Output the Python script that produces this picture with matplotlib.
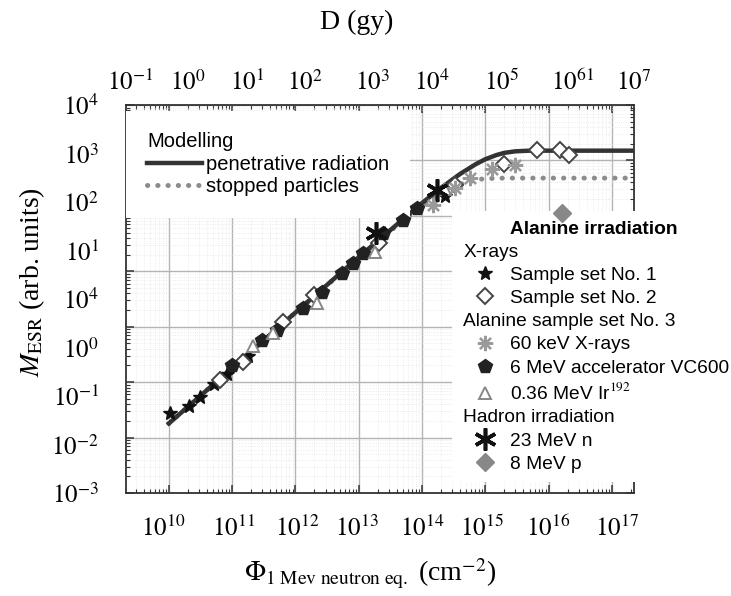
import matplotlib.pyplot as plt
from matplotlib.lines import Line2D

plt.rcParams['font.family'] = 'Liberation Sans'
plt.rcParams['mathtext.fontset'] = 'stix'

# modelling curves
pen_phi = [1e10, 1e11, 1e12, 1e13, 1e14, 2e14, 4e14, 7e14, 1e15, 1.5e15, 2e15, 3e15, 5e15, 1e16, 2.2e17]
pen_m = [0.018, 0.18, 1.8, 18, 170, 320, 570, 850, 1050, 1250, 1370, 1460, 1500, 1500, 1500]
stop_phi = [1e10, 1e11, 1e12, 1e13, 3e13, 1e14, 2e14, 4e14, 7e14, 1e15, 2e15, 2.2e17]
stop_m = [0.018, 0.18, 1.8, 17.5, 51, 150, 250, 370, 445, 470, 480, 480]

# measurements
set1_phi = [1.05e10, 2.1e10, 3.1e10, 5.1e10, 8.3e10, 1.8e11, 2.3e14]
set1_m = [0.028, 0.037, 0.053, 0.093, 0.14, 0.30, 230]
set2_phi = [6.5e10, 1.5e11, 6.3e11, 2.0e12, 2.1e13, 3.3e14, 2.0e15, 6.5e15, 1.5e16, 2.1e16]
set2_m = [0.11, 0.23, 1.2, 3.7, 32, 360, 870, 1550, 1550, 1260]
kev60_phi = [1.5e14, 3.3e14, 5.8e14, 1.3e15, 3.0e15]
kev60_m = [160, 320, 490, 710, 830]
vc600_phi = [1.0e11, 3.0e11, 5.2e11, 1.3e12, 2.6e12, 5.4e12, 8.1e12, 1.15e13, 2.4e13, 5.0e13, 8.3e13]
vc600_m = [0.20, 0.58, 0.87, 2.2, 4.3, 9.3, 14, 21, 49, 85, 138]
ir_phi = [2.1e11, 4.4e11, 2.2e12, 1.8e13, 2.3e14]
ir_m = [0.44, 0.78, 2.7, 22, 300]
n23_phi = [1.9e13, 1.7e14]
n23_m = [49, 295]
p8_phi = [1.65e16]
p8_m = [112]

# tick labels as printed in the figure
bottom_labels = ['$10^{10}$', '$10^{11}$', '$10^{12}$', '$10^{13}$', '$10^{14}$',
                 '$10^{15}$', '$10^{16}$', '$10^{17}$']
top_labels = ['$10^{-1}$', '$10^{0}$', '$10^{1}$', '$10^{2}$', '$10^{3}$', '$10^{4}$',
              '$10^{5}$', '$10^{61}$', '$10^{7}$']
left_labels = ['$10^{-3}$', '$10^{-2}$', '$10^{-1}$', '$10^{0}$', '$10^{4}$',
               '$10^{1}$', '$10^{2}$', '$10^{3}$', '$10^{4}$']
bottom_pos = [0.073, 0.211, 0.337, 0.455, 0.583, 0.701, 0.831, 0.967]
top_pos = [0.008, 0.122, 0.238, 0.352, 0.486, 0.602, 0.740, 0.880, 1.0]

fig = plt.figure(figsize=(7.31, 5.96), dpi=100)
pos = [126 / 731, 103 / 596, 508 / 731, 388 / 596]
ax = fig.add_axes(pos)
ax.set_xscale('log')
ax.set_yscale('log')
ax.set_xlim(2.1e9, 2.24e17)
ax.set_ylim(1e-3, 1e4)

ax.grid(True, which='major', color='#b4b4b4', lw=1.0)
ax.grid(True, which='minor', color='#e6e6e6', lw=0.6, ls=':')
ax.tick_params(which='both', direction='in', top=True, right=True,
               labelbottom=False, labelleft=False, color='#333333')
ax.tick_params(which='major', length=6, width=1.1)
ax.tick_params(which='minor', length=3, width=0.8)
for s in ax.spines.values():
    s.set_color('#333333')
    s.set_linewidth(1.3)

pen, = ax.plot(pen_phi, pen_m, color='#333333', lw=3.2, zorder=3,
               label='penetrative radiation')
stop, = ax.plot(stop_phi, stop_m, color='#8c8c8c', lw=3.6, ls=(0, (0.05, 2.0)),
                dash_capstyle='round', zorder=2.5, label='stopped particles')

h_set1, = ax.plot(set1_phi, set1_m, ls='none', marker='*', ms=10, color='#111111', zorder=6)
h_set2, = ax.plot(set2_phi, set2_m, ls='none', marker='D', ms=8, mfc='white',
                  mec='#444444', mew=1.4, zorder=6)
h_kev, = ax.plot(kev60_phi, kev60_m, ls='none', marker=(8, 2, 0), ms=11,
                 color='#9a9a9a', mew=1.6, zorder=6)
h_vc, = ax.plot(vc600_phi, vc600_m, ls='none', marker='p', ms=10, color='#222222', zorder=6)
h_ir, = ax.plot(ir_phi, ir_m, ls='none', marker='^', ms=9, mfc='white',
                mec='#888888', mew=1.4, zorder=6)
h_n, = ax.plot(n23_phi, n23_m, ls='none', marker=(6, 2, 0), ms=16,
               color='#111111', mew=2.6, zorder=6)
h_p, = ax.plot(p8_phi, p8_m, ls='none', marker='D', ms=9, color='#888888', zorder=6)

# modelling legend
leg1 = ax.legend(handles=[pen, stop], title='Modelling', alignment='left',
                 loc='upper left', bbox_to_anchor=(0, 1 - 6 / 388), borderaxespad=0,
                 fontsize=14.5, title_fontsize=14.5, frameon=True, fancybox=False,
                 edgecolor='none', framealpha=1, borderpad=1.05, handlelength=2.7,
                 handletextpad=0.2, labelspacing=0.18)
ax.add_artist(leg1)

# measurement legend
blank = Line2D([], [], ls='none')
handles = [blank, blank, h_set1, h_set2, blank, h_kev, h_vc, h_ir, blank, h_n, h_p]
labels = ['Alanine irradiation', 'X-rays', 'Sample set No. 1', 'Sample set No. 2',
          'Alanine sample set No. 3', '60 keV X-rays', '6 MeV accelerator VC600',
          '0.36 MeV Ir$^{192}$', 'Hadron irradiation', '23 MeV n', '8 MeV p']
leg2 = ax.legend(handles, labels, loc='upper left', bbox_to_anchor=(0.642, 0.728),
                 borderaxespad=0, fontsize=13.8, frameon=True, fancybox=False,
                 edgecolor='none', framealpha=1, borderpad=0.5, handlelength=2.45,
                 handletextpad=0.08, labelspacing=0.3, numpoints=1)
texts = leg2.get_texts()
texts[0].set_fontweight('bold')
for i in (1, 4, 8):
    texts[i].set_x(-47)

# tick labels placed where the figure prints them
lab = fig.add_axes(pos, frameon=False)
lab.set_xlim(0, 1)
lab.set_ylim(0, 1)
lab.patch.set_visible(False)
lab.set_xticks(top_pos)
lab.set_xticklabels(top_labels)
lab.set_yticks([i / 8 for i in range(9)])
lab.set_yticklabels(left_labels)
lab.tick_params(length=0, labelsize=18, labeltop=True, labelbottom=False)
lab.tick_params(axis='x', pad=7)
lab.tick_params(axis='y', pad=19.5)
sec = lab.secondary_xaxis('bottom')
sec.set_xticks(bottom_pos)
sec.set_xticklabels(bottom_labels)
sec.tick_params(length=0, labelsize=18, pad=16)
sec.spines['bottom'].set_visible(False)

fig.text(357 / 731, 1 - 22 / 596, 'D (gy)', family='Liberation Serif', fontsize=20,
         ha='center', va='center')
fig.text(32 / 731, 1 - 282 / 596, r'$M_{\mathrm{ESR}}$ (arb. units)', family='Liberation Serif',
         fontsize=20, rotation=90, ha='center', va='center')
fig.text(370 / 731, 1 - 574 / 596,
         r'$\Phi_{\mathrm{1\ Mev\ neutron\ eq.}}$ (cm$^{-2}$)', family='Liberation Serif',
         fontsize=20, ha='center', va='center')

fig.savefig('out.png', dpi=100)
